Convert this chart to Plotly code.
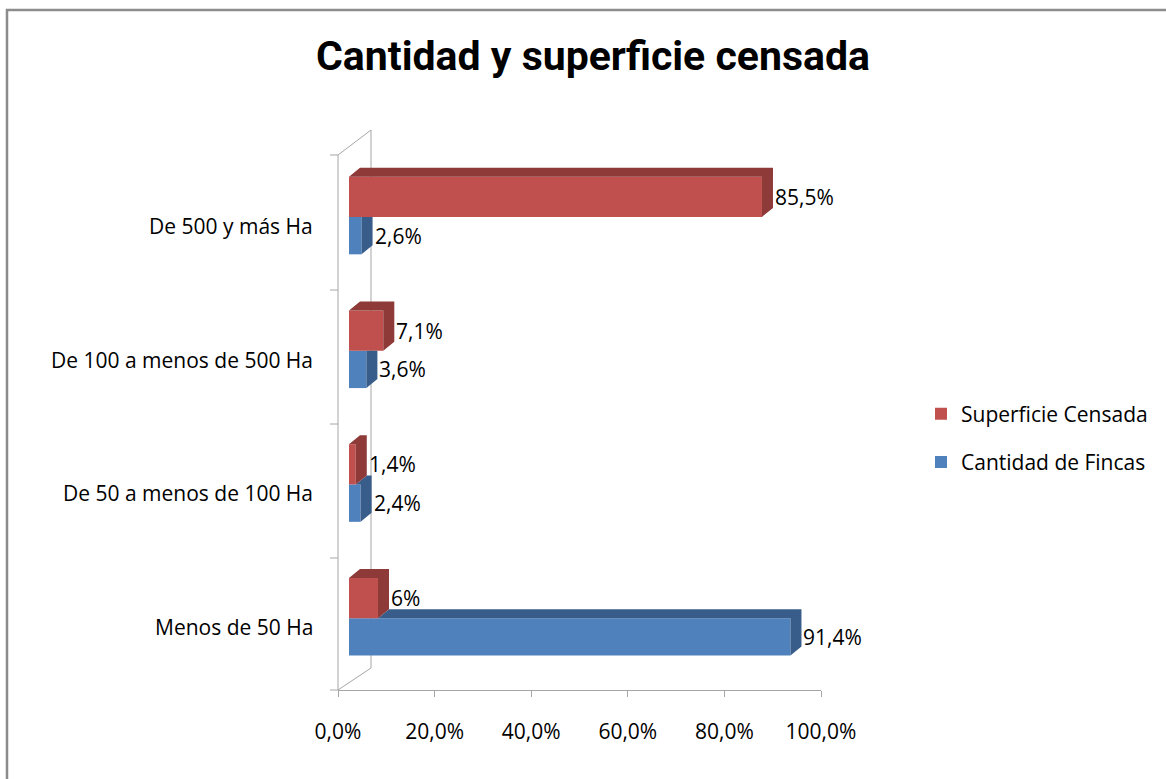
import plotly.graph_objects as go

categories = ["Menos de 50 Ha", "De 50 a menos de 100 Ha", "De 100 a menos de 500 Ha", "De 500 y más Ha"]
fincas = [91.4, 2.4, 3.6, 2.6]
superficie = [6.0, 1.4, 7.1, 85.5]
fincas_labels = ["91,4%", "2,4%", "3,6%", "2,6%"]
superficie_labels = ["6%", "1,4%", "7,1%", "85,5%"]
x_ticks = [0, 20, 40, 60, 80, 100]
x_ticktext = ["0,0%", "20,0%", "40,0%", "60,0%", "80,0%", "100,0%"]

RED, RED_D = "#C0504D", "#8E3A38"
BLUE, BLUE_D = "#4F81BD", "#385D8A"
FONT = "Open Sans"
TFONT = "Roboto, sans-serif"
FS = 21

idx = list(range(len(categories)))
DX, DY = 2.28, 0.067           # depth of the 3D effect in data units
B_OFF, B_W = -0.28, 0.28      # blue bar (lower)
R_OFF, R_W = 0.0, 0.30        # red bar (upper)


def poly(xs, ys, pts):
    for a, b in pts + [pts[0]]:
        xs.append(a)
        ys.append(b)
    xs.append(None)
    ys.append(None)


# red (upper) faces
rx, ry = [], []
for i, v in zip(idx, superficie):
    lo, hi = i + R_OFF, i + R_OFF + R_W
    poly(rx, ry, [(0, hi), (v, hi), (v + DX, hi + DY), (DX, hi + DY)])
    poly(rx, ry, [(v, lo), (v, hi), (v + DX, hi + DY), (v + DX, lo + DY)])

# blue (lower) faces, hidden where the red bar is in front
bx, by = [], []
for i, v, r in zip(idx, fincas, superficie):
    lo, hi = i + B_OFF, i + B_OFF + B_W
    if v > r:
        poly(bx, by, [(r, hi), (v, hi), (v + DX, hi + DY), (r + DX, hi + DY)])
        poly(bx, by, [(v, lo), (v, hi), (v + DX, hi + DY), (v + DX, lo + DY)])
    else:
        poly(bx, by, [(v, lo), (v, hi), (v + DX, hi), (v + DX, lo + DY)])

fig = go.Figure()
fig.add_trace(go.Bar(y=idx, x=fincas, orientation="h", name="Cantidad de Fincas",
                     marker=dict(color=BLUE, line=dict(width=0)), offset=B_OFF, width=B_W,
                     legendgroup="a", legendrank=2))
fig.add_trace(go.Bar(y=idx, x=superficie, orientation="h", name="Superficie Censada",
                     marker=dict(color=RED, line=dict(width=0)), offset=R_OFF, width=R_W,
                     legendgroup="b", legendrank=1))
fig.add_trace(go.Scatter(x=bx, y=by, fill="toself", fillcolor=BLUE_D, mode="lines",
                         line=dict(width=0, color=BLUE_D), hoverinfo="skip", showlegend=False))
fig.add_trace(go.Scatter(x=rx, y=ry, fill="toself", fillcolor=RED_D, mode="lines",
                         line=dict(width=0, color=RED_D), hoverinfo="skip", showlegend=False))

ann = []
for i, v, t in zip(idx, fincas, fincas_labels):
    ann.append(dict(x=v, y=i + B_OFF + B_W / 2, text=t, xref="x", yref="y", showarrow=False,
                    xanchor="left", xshift=11, font=dict(family=FONT, size=FS, color="#000")))
for i, v, t in zip(idx, superficie, superficie_labels):
    ann.append(dict(x=v, y=i + R_OFF + R_W / 2, text=t, xref="x", yref="y", showarrow=False,
                    xanchor="left", xshift=11, font=dict(family=FONT, size=FS, color="#000")))


def px(x):
    return (x - 300) / 566


def py(y):
    return (690 - y) / 540


for i, c in zip(idx, categories):
    ann.append(dict(x=px(315), y=i, text=c, xref="paper", yref="y", showarrow=False,
                    xanchor="right", yshift=-9, font=dict(family=FONT, size=FS, color="#000")))

GRAY = "#A6A6A6"
wall = dict(type="line", xref="paper", yref="paper", line=dict(color=GRAY, width=1), layer="below")
shapes = [
    dict(wall, x0=px(338), x1=px(338), y0=py(690), y1=py(155)),
    dict(wall, x0=px(371), x1=px(371), y0=py(668), y1=py(130)),
    dict(wall, x0=px(338), x1=px(371), y0=py(155), y1=py(130)),
    dict(wall, x0=px(338), x1=px(371), y0=py(690), y1=py(668)),
    dict(type="rect", xref="paper", yref="paper", x0=px(7), x1=1.8, y0=py(10), y1=-0.5,
         line=dict(color="#8C8C8C", width=2.5), layer="below"),
]
for t in [155, 290, 424, 558, 690]:
    shapes.append(dict(wall, x0=px(330), x1=px(338), y0=py(t), y1=py(t)))

fig.update_layout(
    width=1166, height=779,
    margin=dict(l=300, r=300, t=150, b=89),
    paper_bgcolor="white", plot_bgcolor="rgba(0,0,0,0)",
    barmode="overlay",
    title=dict(text="<b>Cantidad y superficie censada</b>", x=593 / 1166, xanchor="center",
               y=1 - 56 / 779, yanchor="middle", xref="container", yref="container",
               font=dict(family=TFONT, size=41, color="#000")),
    xaxis=dict(range=[0, 100], domain=[px(349), px(832)], visible=False, fixedrange=True),
    xaxis2=dict(range=[0, 100], domain=[px(338), px(821)], anchor="free",
                position=0, side="bottom", tickvals=x_ticks, ticktext=x_ticktext,
                showline=True, linecolor=GRAY, linewidth=1, ticks="outside", ticklen=6,
                tickcolor=GRAY, showgrid=False, zeroline=False, ticklabelstandoff=17,
                fixedrange=True, tickfont=dict(family=FONT, size=FS, color="#000")),
    yaxis=dict(range=[-0.5, 3.5], domain=[5 / 540, 1], visible=False, fixedrange=True),
    legend=dict(x=px(921), y=py(438), xanchor="left", yanchor="middle",
                traceorder="grouped", tracegroupgap=18,
                font=dict(family=FONT, size=FS, color="#000")),
    annotations=ann, shapes=shapes,
)
# invisible trace to activate xaxis2 (tick labels of the front plane)
fig.add_trace(go.Scatter(x=[0, 100], y=[0, 0], xaxis="x2", yaxis="y", mode="markers",
                         marker=dict(opacity=0), hoverinfo="skip", showlegend=False))

fig.write_html("out.html", config={"displayModeBar": False},
               post_script="document.body.style.margin='0';document.body.style.padding='0';")
